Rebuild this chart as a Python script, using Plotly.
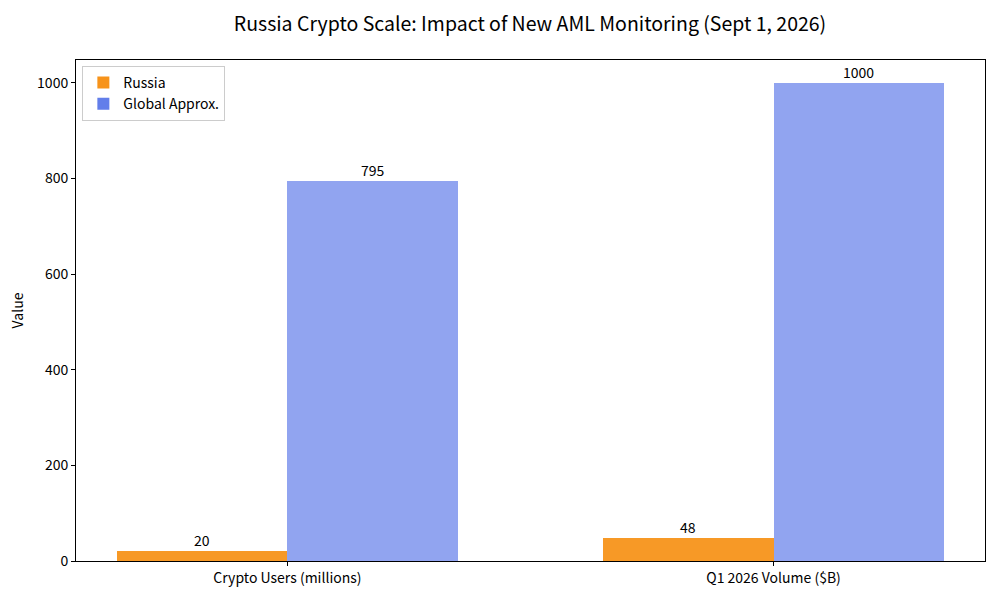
import plotly.graph_objects as go

categories = ["Crypto Users (millions)", "Q1 2026 Volume ($B)"]
russia = [20, 48]
global_approx = [795, 1000]
y_ticks = [0, 200, 400, 600, 800, 1000]

FONT = "Noto Sans CJK JP"
xpos = list(range(len(categories)))
W = 0.35

fig = go.Figure()
fig.add_trace(go.Bar(
    x=xpos, y=russia, name="Russia", width=W, offset=-W,
    marker=dict(color="#F7931A", opacity=0.95, line=dict(width=0)),
))
fig.add_trace(go.Bar(
    x=xpos, y=global_approx, name="Global Approx.", width=W, offset=0,
    marker=dict(color="#627EEA", opacity=0.7, line=dict(width=0)),
))

annotations = []
for xs, vals, shift in ((xpos, russia, -W / 2), (xpos, global_approx, W / 2)):
    for xv, v in zip(xs, vals):
        annotations.append(dict(
            x=xv + shift, y=v, xref="x", yref="y", text=str(v), showarrow=False,
            xanchor="center", yanchor="bottom", yshift=-1,
            font=dict(size=14, family=FONT, color="black"),
        ))

fig.update_layout(
    width=1000, height=600,
    margin=dict(l=76, r=15, t=60, b=39),
    paper_bgcolor="white", plot_bgcolor="white",
    font=dict(family=FONT, size=14, color="black"),
    title=dict(text="Russia Crypto Scale: Impact of New AML Monitoring (Sept 1, 2026)",
               x=0.530, xanchor="center", y=0.96, yanchor="middle",
               font=dict(size=19.5, family=FONT, color="black")),
    showlegend=True,
    legend=dict(x=0.007, y=0.988, xanchor="left", yanchor="top",
                bgcolor="rgba(255,255,255,0.8)", bordercolor="#cccccc", borderwidth=1,
                font=dict(size=14, family=FONT), traceorder="normal",
                tracegroupgap=0, itemwidth=30),
    bargap=0,
    annotations=annotations,
)
fig.update_xaxes(
    range=[-0.435, 1.435], tickmode="array", tickvals=xpos, ticktext=categories,
    showgrid=False, zeroline=False, showline=True, linecolor="black", linewidth=1,
    mirror=True, ticks="outside", ticklen=4, tickcolor="black",
    tickfont=dict(size=14, family=FONT),
)
fig.update_yaxes(
    range=[0, 1048], tickmode="array", tickvals=y_ticks,
    showgrid=False, zeroline=False, showline=True, linecolor="black", linewidth=1,
    mirror=True, ticks="outside", ticklen=4, tickcolor="black",
    tickfont=dict(size=14, family=FONT),
    title=dict(text="Value", font=dict(size=14, family=FONT), standoff=10),
)

fig.write_html("out.html")
